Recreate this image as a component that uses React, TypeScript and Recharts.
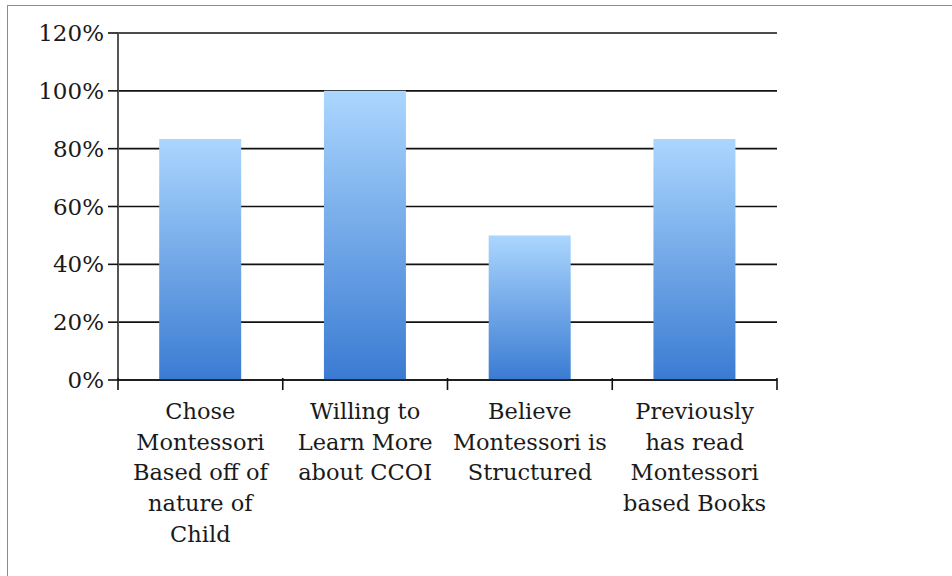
import { BarChart, Bar, XAxis, YAxis, CartesianGrid } from "recharts";

const categories = [
  "Chose\nMontessori\nBased off of\nnature of\nChild",
  "Willing to\nLearn More\nabout CCOI",
  "Believe\nMontessori is\nStructured",
  "Previously\nhas read\nMontessori\nbased Books",
];
const shares = [0.833, 1.0, 0.5, 0.833];
const yTicks = [0, 0.2, 0.4, 0.6, 0.8, 1.0, 1.2];

const FONT = "'DejaVu Serif', serif";
const TEXT = "#1a1a1a";

const data = categories.map((name, i) => ({ name, value: shares[i] }));

// label plus tick marks on the category boundaries (Excel style)
const CategoryTick = (props: any) => {
  const { x, y, payload, index } = props;
  const half = payload.offset ?? 82.4;
  const axisY = y - 2;
  const lines = String(payload.value).split("\n");
  return (
    <g>
      <line x1={x - half} x2={x - half} y1={axisY - 2} y2={axisY + 10} stroke="#111" strokeWidth={1.6} />
      {index === categories.length - 1 && (
        <line x1={x + half} x2={x + half} y1={axisY - 2} y2={axisY + 10} stroke="#111" strokeWidth={1.6} />
      )}
      <text x={x} y={y} textAnchor="middle" fill={TEXT} fontFamily={FONT} fontSize={22.5}>
        {lines.map((line, i) => (
          <tspan key={i} x={x} dy={i === 0 ? 37 : 30.7}>
            {line}
          </tspan>
        ))}
      </text>
    </g>
  );
};

const App = () => {
  return (
    <div
      style={{
        position: "fixed",
        left: 0,
        top: 0,
        width: 952,
        height: 576,
        overflow: "hidden",
        background: "#fff",
      }}
    >
      <div
        style={{
          position: "absolute",
          left: 7,
          top: 5,
          width: 2000,
          height: 2000,
          border: "1px solid #8c8c8c",
        }}
      />
      <div style={{ position: "absolute", left: 0, top: 0 }}>
        <BarChart
          width={952}
          height={576}
          data={data}
          margin={{ top: 33, right: 175, bottom: 0, left: 0 }}
          barCategoryGap="25%"
        >
          <defs>
            <linearGradient id="barFill" x1="0" y1="0" x2="0" y2="1">
              <stop offset="0%" stopColor="#abd6fe" />
              <stop offset="100%" stopColor="#3a7bd2" />
            </linearGradient>
          </defs>
          <CartesianGrid vertical={false} stroke="#111" strokeWidth={1.6} />
          <XAxis
            dataKey="name"
            height={196}
            interval={0}
            tickSize={0}
            tickMargin={2}
            tickLine={false}
            axisLine={{ stroke: "#111", strokeWidth: 1.6 }}
            tick={<CategoryTick />}
          />
          <YAxis
            domain={[0, 1.2]}
            ticks={yTicks}
            width={118}
            tickSize={10}
            tickMargin={4}
            tickFormatter={(v: number) => `${Math.round(v * 100)}%`}
            tick={{ fill: TEXT, fontFamily: FONT, fontSize: 23 }}
            tickLine={{ stroke: "#111", strokeWidth: 1.6 }}
            axisLine={{ stroke: "#555", strokeWidth: 2 }}
          />
          <YAxis
            yAxisId="right"
            orientation="right"
            domain={[0, 1.2]}
            width={0}
            tick={false}
            tickLine={false}
            axisLine={{ stroke: "#d4d4d4", strokeWidth: 1.5 }}
          />
          <Bar dataKey="value" fill="url(#barFill)" isAnimationActive={false} />
        </BarChart>
      </div>
    </div>
  );
};

export default App;
